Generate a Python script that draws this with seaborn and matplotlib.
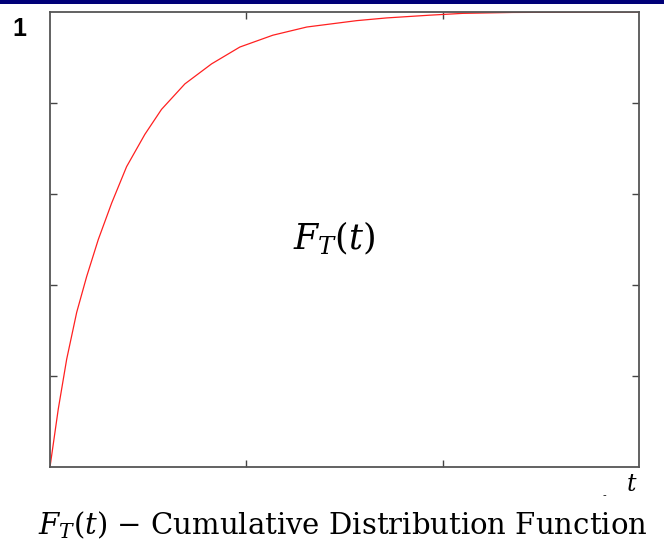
import matplotlib
matplotlib.use("Agg")
import matplotlib.pyplot as plt
import seaborn as sns
import pandas as pd
from matplotlib.patches import Rectangle

# Data
t_values = [0.0, 0.042, 0.085, 0.136, 0.187, 0.246, 0.314, 0.390, 0.483, 0.568,
            0.687, 0.823, 0.967, 1.135, 1.308, 1.562, 1.715, 1.934, 2.102, 2.356,
            2.90, 3.0]
F_values = [0.0, 0.127, 0.237, 0.340, 0.419, 0.500, 0.580, 0.660, 0.731, 0.786,
            0.842, 0.886, 0.923, 0.949, 0.967, 0.981, 0.987, 0.993, 0.997, 0.999,
            1.0, 1.0]
x_ticks = [1, 2]
y_ticks = [0.2, 0.4, 0.6, 0.8]

df = pd.DataFrame({"t": t_values, "F": F_values})

sns.set_style("white")
plt.rcParams["mathtext.fontset"] = "dejavuserif"
plt.rcParams["text.color"] = "black"

fig = plt.figure(figsize=(6.64, 5.47), dpi=100)
fig.patches.append(Rectangle((0, 1 - 4 / 547), 1, 4 / 547, transform=fig.transFigure,
                             facecolor="#000078", edgecolor="none", zorder=10))

ax = fig.add_axes([50 / 664, (547 - 467) / 547, (639 - 50) / 664, (467 - 12) / 547])
sns.lineplot(data=df, x="t", y="F", ax=ax, color="#ff2020", linewidth=0.9)
ax.set_xlim(0, 3)
ax.set_ylim(0, 1)
ax.set_xticks(x_ticks)
ax.set_yticks(y_ticks)
ax.set_xticklabels([])
ax.set_yticklabels([])
ax.set_xlabel("")
ax.set_ylabel("")
ax.tick_params(direction="in", length=5, width=1, color="#444444",
               top=True, right=True, bottom=True, left=True)
for s in ax.spines.values():
    s.set_color("#555555")
    s.set_linewidth(1.3)

fig.text(334 / 664, 1 - 238 / 547, r"$F_T(t)$", ha="center", va="center",
         fontsize=25, color="black")

fig.text(19 / 664, 1 - 29 / 547, "1", ha="center", va="center", fontsize=18,
         fontweight="bold", family="Liberation Sans", color="black")
fig.text(632 / 664, 1 - 484 / 547, r"$t$", ha="center", va="center", fontsize=17,
         color="black")
fig.text(604 / 664, 1 - 495 / 547, "-", ha="center", va="center", fontsize=8,
         family="Liberation Sans", color="black")
fig.text(38 / 664, 1 - 525 / 547,
         r"$F_T(t)$ $-$ Cumulative Distribution Function",
         ha="left", va="center", fontsize=21, family="DejaVu Serif", color="black")

fig.savefig("out.png", dpi=100)
